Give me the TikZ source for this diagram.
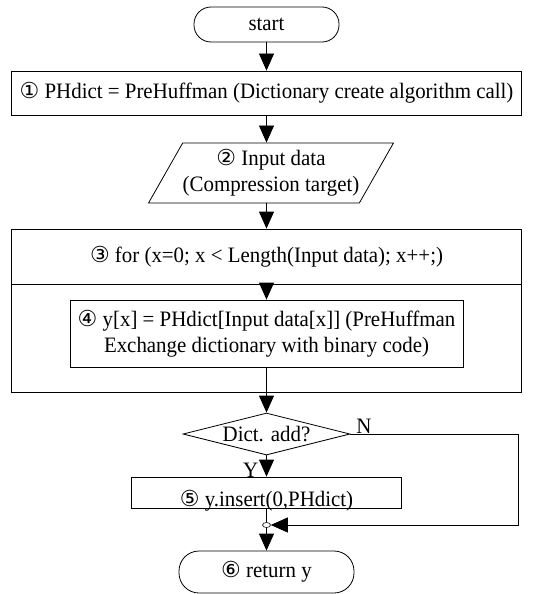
\documentclass[tikz,border=0pt]{standalone}
\usepackage{fontspec}
\setmainfont{Liberation Serif}[FakeStretch=0.95]
\newfontfamily\cfont{DejaVu Sans}
\usetikzlibrary{positioning,arrows.meta,shapes.geometric}

\begin{document}
\begin{tikzpicture}[x=1pt, y=-1pt, >={Triangle[width=15pt,length=17pt]}, line width=0.8pt,
  every node/.style={font=\fontsize{22}{26}\selectfont, inner sep=0pt}]
  \useasboundingbox (0,0) rectangle (536,594);
  \node[draw, rounded corners=17pt, minimum width=145pt, minimum height=35pt] (start) at (266.5,24.5) {start};
  \node[draw, minimum width=510pt, minimum height=44pt] (prehuff) at (266.5,93) {{\cfont ①} PHdict = PreHuffman (Dictionary create algorithm call)};
  \node[draw, trapezium, trapezium left angle=54, trapezium right angle=126, trapezium stretches=true, minimum width=212pt, minimum height=60pt, align=center] (input) at (271,173) {{\cfont ②} Input data\\(Compression target)};
  \node[draw, minimum width=510pt, minimum height=55pt] (loop) at (266.5,256.5) {{\cfont ③} for (x=0; x < Length(Input data); x++;)};
  \node[draw, minimum width=510pt, minimum height=108pt] (loopbody) at (266.5,338) {};
  \node[draw, fill=white, minimum width=393pt, minimum height=67pt, align=center] (lookup) at (266.5,333.5) {{\cfont ④} y[x] = PHdict[Input data[x]] (PreHuffman\\Exchange dictionary with binary code)};
  \node[draw, diamond, aspect=4, minimum width=167pt, minimum height=42pt] (dictadd) at (266.5,434) {Dict. add?};
  \node[draw, minimum width=270pt, minimum height=31pt, text height=28pt, text depth=0pt] (insert) at (266.5,492.5) {{\cfont ⑤} y.insert(0,PHdict)};
  \node[draw, rounded corners=20pt, minimum width=175pt, minimum height=42pt] (retn) at (266.5,572) {{\cfont ⑥} return y};
  \coordinate (nright) at (518,434);

  \draw[->] (start) -- (prehuff);
  \draw[->] (prehuff) -- (prehuff |- input.north);
  \draw[->] (input.south -| loop.north) -- (loop);
  \draw[->] (loop) -- (lookup);
  \draw (lookup) -- (loopbody.south);
  \draw[->] (loopbody.south) -- (dictadd);
  \draw[->] (dictadd) -- node[pos=0.72, left=8pt] {Y} (insert);
  \node[draw, ellipse, fill=white, line width=0.6pt, minimum width=8pt, minimum height=5pt] (join) at (266.5,525) {};
  \draw[->] (dictadd.east) -- node[pos=0.08, above] {N} (nright) |- (join);
  \draw (insert) -- (join);
  \draw[->] (join) -- (retn);
\end{tikzpicture}
\end{document}
